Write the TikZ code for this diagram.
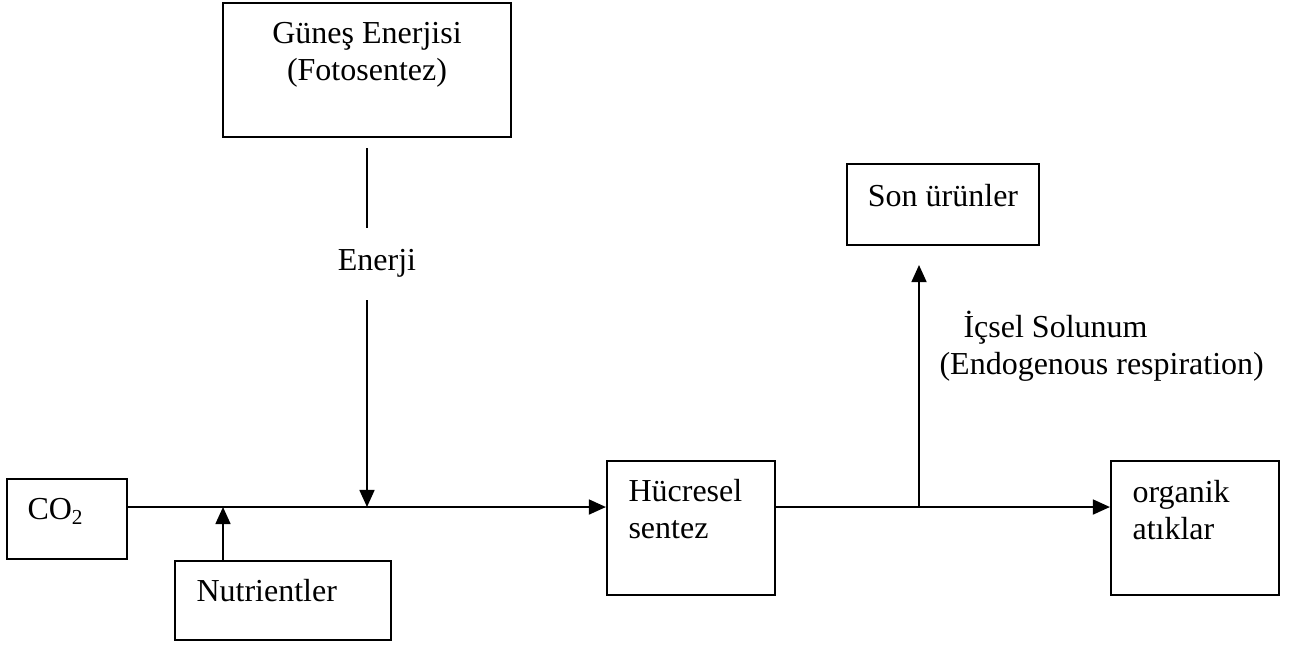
\documentclass[tikz,border=0pt]{standalone}
\usepackage{fontspec}
\setmainfont{Liberation Serif}
\usetikzlibrary{arrows.meta}
\begin{document}
\begin{tikzpicture}[x=0.375pt,y=-0.375pt]

% Style for nodes
\tikzstyle{box}=[rectangle,draw,line width=0.8pt,inner sep=0]
\tikzstyle{txt}=[inner sep=0,font=\fontsize{12pt}{14pt}\selectfont]
\tikzstyle{arr}=[line width=0.75pt,-{Triangle[length=6.4pt,width=5.6pt]}]
\useasboundingbox (0,0) rectangle (1290,649);
% The boxes
\node(gunes)[box,minimum width=108pt,minimum height=50.25pt] at (367,70) {};
\node(co2)[box,minimum width=45pt,minimum height=30pt] at (67,519) {};
\node(nutri)[box,minimum width=81pt,minimum height=29.6pt] at (283,600.5) {};
\node(hucre)[box,minimum width=63pt,minimum height=50.25pt] at (691,528) {};
\node(son)[box,minimum width=72pt,minimum height=30.4pt] at (943,204.5) {};
\node(organik)[box,minimum width=63pt,minimum height=50.25pt] at (1195,528) {};
% The texts
\node(gunestxt)[txt,align=center] at (367,55) {Güneş Enerjisi\\(Fotosentez)};
\node(enerji)[txt] at (377,263) {Enerji};
\node(co2txt)[txt,anchor=west] at (27,511) {CO\textsubscript{2}};
\node(nutritxt)[txt,anchor=west] at (196,591) {Nutrientler};
\node(hucretxt)[txt,anchor=west,align=left] at (628,509) {Hücresel\\sentez};
\node(sontxt)[txt] at (943,196) {Son ürünler};
\node(icseltxt)[txt,anchor=west,align=left] at (939,346) {\hspace*{9pt}İçsel Solunum\\(Endogenous respiration)};
\node(organiktxt)[txt,anchor=west,align=left] at (1132,510) {organik\\atıklar};
% Junctions on the main line
\coordinate(j0) at (223,507);
\coordinate(j1) at (367,507);
\coordinate(j2) at (919,507);
\coordinate(e0) at (367,148);
\coordinate(e1) at (367,228);
\coordinate(e2) at (367,300);
\coordinate(s0) at (919,265);
% The lines
\draw[line width=0.75pt] (e0) -- (e1);
\draw[arr] (e2) -- (j1);
\draw[arr] (co2.east |- j1) -- (hucre.west |- j1);
\draw[arr] (j0 |- nutri.north) -- (j0);
\draw[arr] (hucre.east |- j2) -- (organik.west |- j2);
\draw[arr] (j2) -- (s0);
\end{tikzpicture}
\end{document}
